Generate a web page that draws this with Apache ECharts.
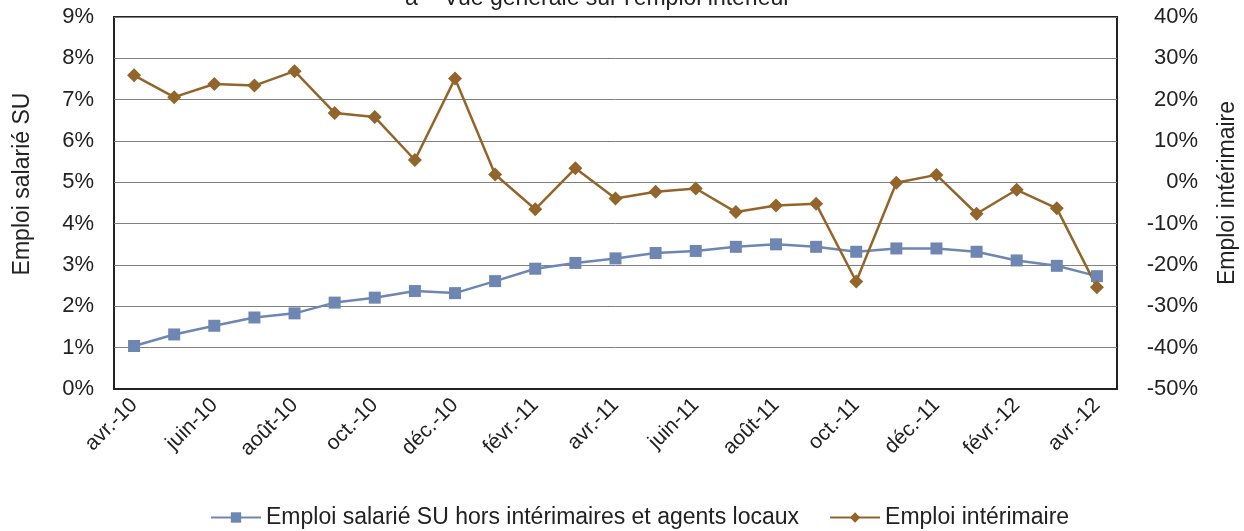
<!DOCTYPE html>
<html><head><meta charset="utf-8">
<script src="https://cdn.jsdelivr.net/npm/echarts@6/dist/echarts.min.js"></script>
<style>html,body{margin:0;padding:0;background:#fff}#c{width:1244px;height:531px}</style>
</head><body><div id="c"></div>
<script>
var categories = ['avr.-10','mai-10','juin-10','juil.-10','août-10','sept.-10','oct.-10','nov.-10','déc.-10','janv.-11','févr.-11','mars-11','avr.-11','mai-11','juin-11','juil.-11','août-11','sept.-11','oct.-11','nov.-11','déc.-11','janv.-12','févr.-12','mars-12','avr.-12'];
var emploiSU = [1.04,1.32,1.53,1.73,1.83,2.09,2.21,2.37,2.32,2.61,2.91,3.05,3.16,3.29,3.34,3.44,3.50,3.44,3.32,3.40,3.40,3.32,3.11,2.98,2.73];
var emploiInterim = [25.9,20.6,23.8,23.4,26.9,16.8,15.8,5.4,25.1,1.9,-6.5,3.4,-3.9,-2.3,-1.5,-7.2,-5.6,-5.2,-24.0,-0.1,1.8,-7.6,-1.8,-6.3,-25.4];
var nameSU = 'Emploi salarié SU hors intérimaires et agents locaux';
var nameInterim = 'Emploi intérimaire';
var axisNameLeft = 'Emploi salarié SU';
var axisNameRight = 'Emploi intérimaire';
var titleText = "a – Vue générale sur l'emploi intérieur";

var F = 'Liberation Sans, Arial, sans-serif';
var C = '#222';
var chart = echarts.init(document.getElementById('c'));
chart.setOption({
  animation: false,
  title: { text: titleText, left: 593, textAlign: 'center', top: -18, textStyle: { fontFamily: F, fontSize: 23, fontWeight: 'normal', color: C } },
  grid: { left: 114, right: 127, top: 17, bottom: 142, show: true, borderColor: '#222', borderWidth: 2 },
  legend: {
    top: 501, left: 205, itemWidth: 50, itemHeight: 13, itemGap: 30,
    textStyle: { fontFamily: F, fontSize: 23, color: C },
    data: [nameSU, nameInterim]
  },
  graphic: [
    { type: 'text', x: 23, y: 184, rotation: Math.PI / 2,
      style: { text: axisNameLeft, font: '23px ' + F, fill: C, textAlign: 'center', textVerticalAlign: 'middle' } },
    { type: 'text', x: 1228, y: 193, rotation: Math.PI / 2,
      style: { text: axisNameRight, font: '23px ' + F, fill: C, textAlign: 'center', textVerticalAlign: 'middle' } }
  ],
  xAxis: {
    type: 'category', data: categories, boundaryGap: true,
    axisLine: { lineStyle: { color: '#222', width: 2 } },
    axisTick: { show: false },
    axisLabel: { interval: 1, rotate: 45, fontFamily: F, fontSize: 21, color: C, margin: 13 }
  },
  yAxis: [{
    type: 'value', min: 0, max: 9, interval: 1, position: 'left',
    axisLine: { show: false }, axisTick: { show: false },
    axisLabel: { formatter: '{value}%', fontFamily: F, fontSize: 22, color: C, margin: 20 },
    splitLine: { lineStyle: { color: '#808080', width: 1 } }
  }, {
    type: 'value', min: -50, max: 40, interval: 10, position: 'right',
    axisLine: { show: false }, axisTick: { show: false },
    axisLabel: { formatter: '{value}%', fontFamily: F, fontSize: 22, color: C, margin: 81, align: 'right' },
    splitLine: { show: false }
  }],
  series: [{
    name: nameSU, type: 'line', yAxisIndex: 0, data: emploiSU,
    symbol: 'rect', symbolSize: 12,
    lineStyle: { color: '#6e87b2', width: 2.5 },
    itemStyle: { color: '#6e87b2' }
  }, {
    name: nameInterim, type: 'line', yAxisIndex: 1, data: emploiInterim,
    symbol: 'diamond', symbolSize: 14,
    lineStyle: { color: '#93652a', width: 2.5 },
    itemStyle: { color: '#93652a' }
  }]
});
</script>
</body></html>
